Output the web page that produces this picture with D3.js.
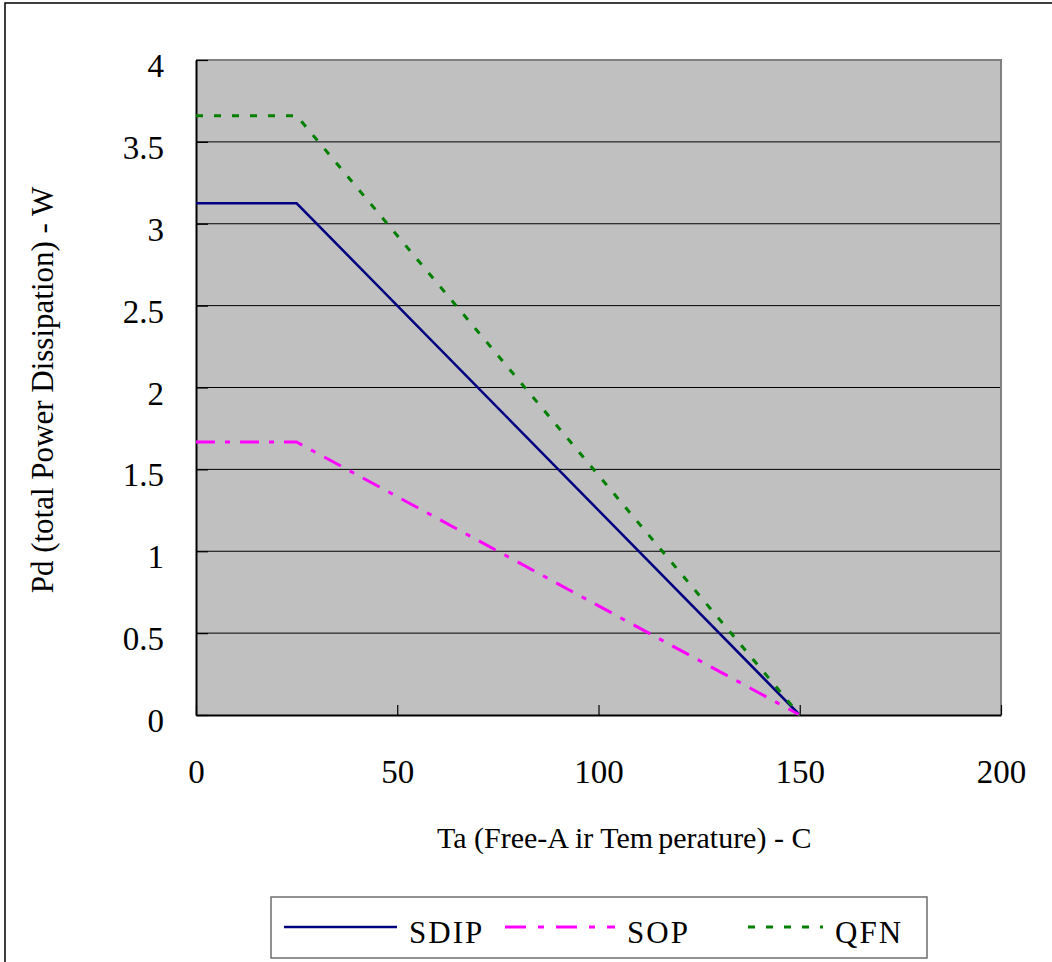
<!DOCTYPE html>
<html>
<head>
<meta charset="utf-8">
<script src="https://cdn.jsdelivr.net/npm/d3@7"></script>
<style>
  body { margin: 0; background: #fff; }
  text { font-family: "Liberation Serif", "DejaVu Serif", serif; fill: #000; }
</style>
</head>
<body>
<div class="chartContainer"></div>
<script>
// values
const temps = [0, 25, 150];
const sdip = [3.125, 3.125, 0];
const sop = [1.667, 1.667, 0];
const qfn = [3.66, 3.66, 0];
const seriesNames = ['SDIP', 'SOP', 'QFN'];
const xTicks = [0, 50, 100, 150, 200];
const yTicks = [0, 0.5, 1, 1.5, 2, 2.5, 3, 3.5, 4];

document.addEventListener('DOMContentLoaded', function() {
  const w = 1052;
  const h = 962;
  const left = 196, right = 1001, top = 60, bottom = 715;
  const serif = '"Liberation Serif", "DejaVu Serif", serif';

  const colors = ['#000080', '#FF00FF', '#008000'];
  const dashes = [null, '19,10,5,10', '7,11'];
  const legendDashes = [null, '21,12,6,12', '7,11'];
  const values = [sdip, sop, qfn];

  const svg = d3.select('.chartContainer')
    .append('svg')
    .attr('width', w)
    .attr('height', h);

  // outer frame (right and bottom fall outside the picture)
  svg.append('rect')
    .attr('x', 5).attr('y', 3)
    .attr('width', 1200).attr('height', 1100)
    .attr('fill', 'none')
    .attr('stroke', '#000')
    .attr('stroke-width', 1.5);

  const xScale = d3.scaleLinear().domain([0, 200]).range([left, right]);
  const yScale = d3.scaleLinear().domain([0, 4]).range([bottom, top]);

  // plot background
  svg.append('rect')
    .attr('x', left).attr('y', top)
    .attr('width', right - left).attr('height', bottom - top)
    .attr('fill', '#C0C0C0');

  // gridlines
  svg.append('g')
    .selectAll('line')
    .data(yTicks.filter(d => d > 0 && d < 4))
    .enter()
    .append('line')
    .attr('x1', left).attr('x2', right)
    .attr('y1', d => yScale(d)).attr('y2', d => yScale(d))
    .attr('stroke', '#000')
    .attr('stroke-width', 1);

  // top and right border
  svg.append('path')
    .attr('d', 'M' + left + ',' + top + 'H' + right + 'V' + bottom)
    .attr('fill', 'none')
    .attr('stroke', '#808080')
    .attr('stroke-width', 2);

  const xAxis = d3.axisBottom(xScale).tickValues(xTicks).tickSizeInner(-10).tickSizeOuter(0).tickFormat(d => d);
  const yAxis = d3.axisLeft(yScale).tickValues(yTicks).tickSizeInner(-12).tickSizeOuter(0).tickFormat(d => d);

  const gx = svg.append('g')
    .attr('transform', 'translate(0,' + bottom + ')')
    .attr('id', 'x-axis')
    .call(xAxis);
  const gy = svg.append('g')
    .attr('transform', 'translate(' + left + ',0)')
    .attr('id', 'y-axis')
    .call(yAxis);

  [gx, gy].forEach(g => {
    g.select('.domain').attr('stroke', '#000').attr('stroke-width', 2);
    g.selectAll('.tick line').attr('stroke', '#000').attr('stroke-width', 1.2);
    g.selectAll('.tick text')
      .style('font-family', serif)
      .style('font-size', '33px')
      .attr('fill', '#000');
  });
  gy.selectAll('.tick text').attr('x', -32).attr('dy', '0.5em');
  gx.selectAll('.tick text').attr('dy', '0').attr('y', 68);

  // series lines
  const line = d3.line()
    .x((d, i) => xScale(temps[i]))
    .y(d => yScale(d));

  svg.append('g')
    .selectAll('path')
    .data(values)
    .enter()
    .append('path')
    .attr('d', d => line(d))
    .attr('fill', 'none')
    .attr('stroke', (d, i) => colors[i])
    .attr('stroke-width', (d, i) => i === 0 ? 2.5 : 3)
    .attr('stroke-dasharray', (d, i) => dashes[i]);

  // axis titles
  const xt = svg.append('text')
    .attr('x', 437)
    .attr('y', 848)
    .style('font-family', serif)
    .style('font-size', '30px');
  xt.append('tspan').text('Ta (Free-A');
  xt.append('tspan').attr('dx', 6).text('ir Tem');
  xt.append('tspan').attr('dx', 5).text('perature) - C');

  svg.append('text')
    .attr('transform', 'translate(53,390)rotate(-90)')
    .attr('text-anchor', 'middle')
    .style('font-family', serif)
    .style('font-size', '31px')
    .text('Pd (total Power Dissipation) - W');

  // legend
  const legend = svg.append('g').attr('id', 'legend');
  legend.append('rect')
    .attr('x', 271).attr('y', 897)
    .attr('width', 656).attr('height', 61)
    .attr('fill', '#fff')
    .attr('stroke', '#6e6e6e')
    .attr('stroke-width', 1.5);

  const legendX = [284, 505, 748];
  const legendLen = [113, 110, 75];
  const items = legend.selectAll('g.item')
    .data(seriesNames)
    .enter()
    .append('g')
    .attr('class', 'item');

  items.append('line')
    .attr('x1', (d, i) => legendX[i])
    .attr('x2', (d, i) => legendX[i] + legendLen[i])
    .attr('y1', 927).attr('y2', 927)
    .attr('stroke', (d, i) => colors[i])
    .attr('stroke-width', (d, i) => i === 0 ? 2.5 : 3)
    .attr('stroke-dasharray', (d, i) => legendDashes[i]);

  items.append('text')
    .attr('x', (d, i) => legendX[i] + legendLen[i] + 12)
    .attr('y', 943)
    .style('font-family', serif)
    .style('font-size', '31px')
    .style('letter-spacing', '2px')
    .text(d => d);
});
</script>
</body>
</html>
